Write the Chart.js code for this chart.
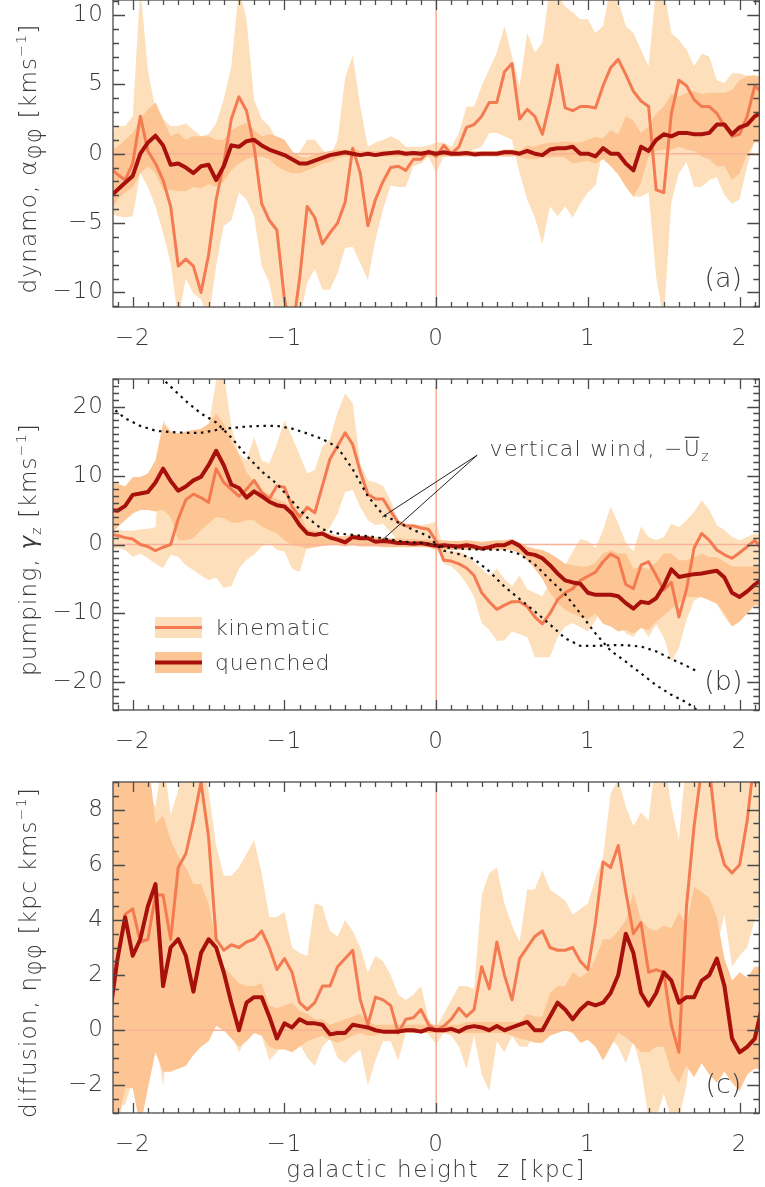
<!DOCTYPE html>
<html>
<head>
<meta charset="utf-8">
<script src="https://cdn.jsdelivr.net/npm/chart.js@4.4.1/dist/chart.umd.min.js"></script>
<style>
  body { margin: 0; background: #fff; width: 765px; height: 1187px; position: relative; overflow: hidden; }
  canvas { position: absolute; left: 0; }
</style>
</head>
<body>
<canvas id="pa" width="765" height="376" style="top:-24px"></canvas>
<canvas id="pb" width="765" height="406" style="top:352px"></canvas>
<canvas id="pc" width="765" height="429" style="top:758px"></canvas>
<script>
// --- data: galactic height grid (kpc) ---
const zGrid = [-2.15, -2.1, -2.05, -2, -1.95, -1.9, -1.85, -1.8, -1.75, -1.7,
  -1.65, -1.6, -1.55, -1.5, -1.45, -1.4, -1.35, -1.3, -1.25, -1.2,
  -1.15, -1.1, -1.05, -1, -0.95, -0.9, -0.85, -0.8, -0.75, -0.7,
  -0.65, -0.6, -0.55, -0.5, -0.45, -0.4, -0.35, -0.3, -0.25, -0.2,
  -0.15, -0.1, -0.05, 0, 0.05, 0.1, 0.15, 0.2, 0.25, 0.3,
  0.35, 0.4, 0.45, 0.5, 0.55, 0.6, 0.65, 0.7, 0.75, 0.8,
  0.85, 0.9, 0.95, 1, 1.05, 1.1, 1.15, 1.2, 1.25, 1.3,
  1.35, 1.4, 1.45, 1.5, 1.55, 1.6, 1.65, 1.7, 1.75, 1.8,
  1.85, 1.9, 1.95, 2, 2.05, 2.1, 2.15];
const zTicks = [-2, -1, 0, 1, 2];

// (a) dynamo alpha_phiphi
const aKin = [-1.0, -1.5, -1.9, -0.7, 2.7, 0.2, -0.7, -1.9, -3.8, -8.1,
  -7.6, -8.1, -10.0, -7.3, -3.3, -0.7, 2.5, 4.1, 3.1, 0.5,
  -3.6, -4.8, -5.5, -10.5, -13, -9.0, -3.8, -4.6, -6.5, -5.7,
  -5.0, -3.5, 0.4, -1.4, -5.2, -3.3, -2.0, -1.0, -0.9, -1.2,
  -0.4, -0.4, 0.2, -0.2, 0.6, 0.0, 0.5, 1.9, 2.1, 2.7,
  3.7, 3.7, 5.9, 6.5, 2.5, 3.2, 2.7, 1.4, 3.7, 6.4,
  3.3, 3.1, 3.4, 3.4, 3.3, 4.9, 6.2, 6.8, 5.7, 4.5,
  3.8, 3.4, -2.6, -2.8, 2.9, 5.3, 4.9, 3.9, 3.4, 3.4,
  2.9, 2.0, 1.25, 1.4, 2.7, 4.9, 4.4];
const aKinHi = [1.5, 2.0, 2.0, 2.7, 12, 6.0, 3.2, 2.5, 2.0, 2.0,
  2.2, 1.7, 1.25, 1.4, 2.2, 3.9, 6.3, 12, 9.7, 3.9,
  2.5, 2.0, 1.0, 0.5, -0.2, 0.1, 1.0, 1.0, 0.3, -0.3,
  1.0, 5.5, 7.1, 3.4, 0.5, 0.8, 1.0, 1.25, 1.0, 0.5,
  0.5, 0.5, 0.6, 0.8, 0.8, 0.5, 1.5, 3.4, 3.4, 4.9,
  6.1, 7.3, 9.2, 7.0, 4.9, 8.7, 7.3, 8.0, 12, 11.5,
  10.6, 10.2, 9.7, 9.7, 8.7, 9.2, 12, 11, 9.2, 8.7,
  7.5, 6.3, 12, 12, 8.7, 8.2, 7.5, 6.3, 7.2, 7.0,
  5.3, 5.1, 5.8, 5.8, 5.6, 5.7, 5.5];
const aKinLo = [-4.3, -4.5, -4.6, -4.5, -1.4, -2.4, -3.8, -5.7, -7.9, -12,
  -9.0, -10.1, -10.5, -12, -8.1, -5.2, -4.8, -2.8, -3.3, -4.5,
  -8.1, -9.3, -12, -12, -12, -12, -9.3, -8.3, -9.8, -9.8,
  -8.6, -6.8, -6.7, -7.9, -9.1, -6.2, -4.0, -2.3, -2.4, -2.4,
  -0.9, -0.7, -0.2, -1.4, -0.2, -0.2, -0.2, 0.0, 0.3, 0.5,
  1.5, 1.5, 1.25, 1.0, -1.4, -3.3, -4.6, -6.5, -3.8, -4.5,
  -3.8, -4.6, -3.6, -2.8, -2.3, 0.3, 0.3, 0.3, -0.9, -3.1,
  -3.1, -2.8, -8.9, -12, -3.5, -1.4, -0.6, -2.4, -2.4, -1.9,
  -1.7, -3.0, -3.6, -3.3, -0.9, 1.0, 0.8];
const aQ = [-3.1, -2.6, -2.1, -1.6, 0.0, 0.8, 1.3, 0.6, -0.8, -0.7,
  -1.0, -1.4, -0.9, -0.8, -1.9, -0.9, 0.6, 0.5, 0.9, 1.0,
  0.6, 0.3, 0.1, -0.1, -0.4, -0.7, -0.7, -0.5, -0.3, -0.1,
  0.0, 0.1, 0.0, -0.1, 0.0, -0.1, 0.0, 0.05, 0.1, 0.0,
  0.05, 0.0, 0.1, 0.0, 0.1, 0.0, 0.0, 0.05, -0.05, 0.0,
  0.0, 0.0, 0.1, 0.1, 0.0, 0.2, 0.0, -0.1, 0.3, 0.4,
  0.4, 0.5, 0.0, 0.0, -0.2, 0.4, 0.0, 0.0, -0.7, -1.2,
  0.5, 0.2, 1.0, 1.4, 1.25, 1.5, 1.5, 1.4, 1.4, 1.5,
  2.1, 2.1, 1.4, 1.9, 2.1, 2.7, 3.0];
const aQHi = [0.3, 0.5, 1.0, 1.5, 2.5, 3.2, 3.7, 2.5, 1.25, 1.5,
  1.0, 1.25, 1.25, 1.25, 1.0, 1.0, 1.7, 2.0, 2.2, 1.7,
  1.25, 1.4, 1.25, 1.0, 0.2, -0.2, -0.3, 0.0, 0.1, 0.2,
  0.3, 0.2, 0.4, 0.2, 0.2, 0.2, 0.2, 0.2, 0.25, 0.2,
  0.2, 0.2, 0.25, 0.2, 0.25, 0.2, 0.2, 0.2, 0.2, 0.2,
  0.2, 0.2, 0.3, 0.3, 0.2, 0.6, 0.5, 0.7, 0.8, 0.8,
  0.9, 0.8, 0.8, 1.0, 1.2, 1.1, 1.7, 1.4, 2.7, 2.4,
  1.5, 2.0, 2.9, 3.4, 4.3, 4.1, 4.4, 4.5, 4.3, 4.4,
  4.4, 4.4, 4.6, 5.3, 5.6, 5.6, 5.5];
const aQLo = [-4.3, -3.3, -2.8, -2.4, -1.4, -0.9, -1.4, -2.6, -2.6, -2.7,
  -2.7, -2.4, -2.5, -2.2, -2.4, -2.0, -1.2, -0.7, -0.4, -0.2,
  -0.2, -0.4, -0.9, -1.2, -1.4, -1.4, -1.2, -1.0, -0.7, -0.6,
  -0.3, -0.2, -0.2, -0.2, -0.2, -0.2, -0.2, -0.2, -0.2, -0.2,
  -0.2, -0.2, -0.2, -0.2, -0.2, -0.2, -0.2, -0.2, -0.2, -0.2,
  -0.2, -0.2, -0.2, -0.2, -0.2, -0.4, -0.4, -0.3, -0.3, -0.2,
  -0.3, -0.7, -0.6, -0.5, -0.7, -0.4, -0.9, -1.5, -2.4, -3.1,
  -2.1, -0.2, 0.2, 0.3, 0.3, 0.5, 0.3, 0.2, -0.2, -0.4,
  -0.9, -0.9, -1.9, -1.4, 0.0, 0.8, 0.8];

// (b) pumping gamma_z
const bKin = [1.5, 1.3, 1.0, 0.8, 0.0, -0.3, -0.9, -0.4, 0.0, 3.7,
  6.5, 7.3, 6.8, 6.1, 11.0, 9.0, 8.0, 7.0, 8.0, 9.3,
  7.6, 6.6, 8.5, 8.3, 5.5, 4.0, 5.4, 4.6, 8.5, 12.4,
  14.3, 16.2, 14.5, 10.5, 7.3, 6.6, 6.6, 4.8, 3.2, 2.7,
  2.7, 2.4, 2.2, 0.5, -2.3, -2.4, -2.8, -3.4, -4.5, -7.0,
  -8.3, -9.4, -8.8, -8.3, -8.3, -9.0, -10.5, -11.5, -10.0, -8.0,
  -7.0, -6.4, -5.2, -4.6, -4.0, -2.5, -1.4, -2.0, -5.8, -6.4,
  -3.0, -2.5, -4.5, -6.6, -5.5, -10.5, -6.5, -0.5, 1.6, 0.6,
  -0.8, -1.5, -2.0, -1.2, -0.3, 0.6, -0.8];
const bKinHi = [2.0, 2.2, 2.0, 2.0, 2.2, 2.3, 2.5, 18.0, 16.5, 16.1,
  16.3, 16.6, 16.6, 17.1, 23.8, 25, 17.1, 13.2, 12.2, 15.6,
  12.2, 11.7, 14.6, 18.0, 15.6, 13.0, 10.3, 10.8, 14.2, 15.3,
  19.2, 21.9, 20.5, 11.7, 9.3, 9.0, 8.5, 6.4, 3.5, 3.0,
  3.0, 2.8, 3.0, 3.3, -0.8, -1.0, -1.0, -1.5, -2.5, -3.5,
  -4.5, -3.5, -5.0, -6.0, -4.5, -6.5, -7.0, -7.5, -5.5, -4.5,
  -3.0, -1.0, 0.8, 0.5, -0.5, 2.1, 5.5, 3.0, 0.3, -1.0,
  2.6, 1.1, 0.6, 1.1, 3.0, 2.5, 3.5, 4.7, 6.4, 5.0,
  2.8, 2.1, 1.1, 0.6, 1.1, 1.6, 1.4];
const bKinLo = [-1.0, -0.5, -0.8, -1.8, -1.3, -2.0, -2.8, -3.4, -1.5, -1.8,
  -3.0, -3.7, -4.5, -5.2, -4.8, -6.3, -6.0, -3.5, -2.2, -1.5,
  -0.3, 0.2, -0.8, -1.0, -3.5, -4.0, -0.3, 0.2, 0.8, 2.5,
  4.5, 7.6, 7.9, 5.4, 3.5, 2.8, 3.0, 1.8, 0.4, 0.0,
  0.4, 0.0, 0.4, -0.3, -2.8, -3.2, -4.2, -5.7, -7.6, -11.4,
  -12.4, -14.0, -13.9, -12.6, -13.0, -13.4, -16.3, -16.4, -16.3, -13.5,
  -11.9, -11.4, -12.0, -12.6, -11.0, -9.0, -10.0, -11.0, -12.9, -13.4,
  -11.9, -13.4, -11.6, -13.5, -17.0, -15.0, -11.0, -8.1, -7.6, -8.1,
  -8.6, -10.5, -11.9, -11.0, -9.3, -8.1, -8.1];
const bQ = [5.0, 4.9, 5.6, 7.2, 7.4, 7.6, 9.0, 11.0, 9.2, 7.8,
  8.4, 9.3, 9.8, 11.5, 13.6, 11.5, 8.7, 8.2, 6.8, 7.7,
  7.0, 6.2, 5.7, 5.5, 4.5, 2.8, 1.6, 1.4, 1.6, 1.0,
  0.7, 0.3, 1.1, 0.9, 0.9, 0.4, 0.5, 0.4, 0.2, 0.2,
  0.1, 0.2, 0.0, -0.2, -0.1, -0.2, -0.3, -0.1, -0.3, -0.6,
  -0.4, -0.1, -0.1, 0.4, -0.2, -1.3, -1.5, -2.0, -3.0, -4.2,
  -5.2, -5.5, -5.7, -7.0, -7.3, -7.3, -7.3, -7.5, -8.5, -9.3,
  -8.3, -8.5, -7.8, -6.0, -3.6, -4.7, -4.5, -4.3, -4.2, -4.0,
  -3.8, -4.8, -7.0, -7.6, -6.8, -5.8, -5.0];
const bQHi = [9.0, 8.8, 8.4, 9.8, 9.8, 10.3, 12.2, 17.5, 16.3, 16.1,
  16.4, 16.6, 16.8, 17.5, 19.0, 17.5, 15.0, 13.0, 10.5, 9.0,
  7.8, 7.2, 6.6, 6.2, 5.3, 4.5, 2.3, 2.0, 1.8, 1.6,
  1.2, 1.2, 1.5, 1.3, 1.3, 1.1, 1.0, 0.9, 0.9, 0.8,
  0.8, 0.7, 0.7, 0.6, 0.6, 0.5, 0.5, 0.6, 0.5, 0.4,
  0.5, 0.6, 0.6, 0.8, 0.3, -0.3, -0.6, -0.8, -1.3, -2.0,
  -2.8, -3.0, -3.2, -3.2, -2.6, -1.3, -0.8, -1.3, -1.3, -3.5,
  -3.2, -3.6, -2.6, -1.3, -1.3, -2.3, -2.3, -1.8, -1.3, -1.8,
  -1.8, -2.5, -3.2, -3.2, -3.2, -3.2, -3.0];
const bQLo = [1.5, 2.5, 3.5, 4.5, 5.0, 5.0, 4.8, 5.0, 4.0, 0.6,
  0.6, 0.9, 2.1, 3.0, 4.0, 3.8, 3.2, 3.2, 3.5, 3.5,
  2.6, 2.1, 1.6, 0.6, -0.1, -0.3, -0.6, -0.4, -0.2, -0.1,
  -0.1, -0.3, -0.1, -0.3, -0.3, -0.3, -0.4, -0.4, -0.4, -0.4,
  -0.4, -0.4, -0.4, -0.8, -0.8, -0.8, -0.8, -0.8, -0.8, -0.8,
  -0.8, -0.8, -0.8, -0.8, -1.3, -2.3, -3.5, -5.0, -7.0, -8.5,
  -9.5, -10.0, -10.5, -10.8, -10.0, -11.5, -11.9, -12.6, -12.4, -12.9,
  -12.1, -12.4, -11.2, -10.3, -9.3, -8.6, -7.6, -7.6, -7.6, -8.1,
  -8.6, -10.0, -11.9, -11.2, -10.0, -8.8, -9.0];
// vertical wind -U_z (two dotted curves)
const windAz = [-2.15, -2.05, -1.95, -1.85, -1.75, -1.65, -1.55, -1.45, -1.35, -1.25,
  -1.15, -1.05, -0.95, -0.85, -0.75, -0.65, -0.55, -0.45, -0.35, -0.25,
  -0.15, -0.05, 0, 0.05, 0.15, 0.25, 0.35, 0.45, 0.55, 0.65,
  0.75, 0.85, 0.95, 1.05, 1.15, 1.25, 1.35, 1.45, 1.55, 1.65, 1.72];
const windA = [20.1, 18.3, 17.2, 16.5, 16.3, 16.2, 16.2, 16.6, 16.9, 17.1,
  17.2, 17.2, 16.8, 16.1, 15.3, 14.1, 10.9, 7.0, 4.3, 3.2,
  2.1, 1.2, 0, -0.9, -1.4, -2.1, -3.9, -6.1, -7.9, -9.7,
  -11.6, -13.6, -14.7, -14.7, -14.6, -14.6, -14.8, -15.5, -16.6, -17.6, -18.4];
const windBz = [-1.85, -1.75, -1.65, -1.55, -1.45, -1.35, -1.25, -1.15, -1.05, -0.95,
  -0.85, -0.75, -0.65, -0.55, -0.45, -0.35, -0.25, -0.15, -0.05, 0,
  0.05, 0.15, 0.25, 0.35, 0.45, 0.55, 0.65, 0.75, 0.85, 0.95,
  1.05, 1.15, 1.25, 1.35, 1.45, 1.55, 1.65, 1.75];
const windB = [25, 22.9, 20.8, 19.0, 17.7, 15.5, 12.9, 10.6, 8.8, 6.3,
  3.9, 2.2, 1.6, 1.4, 1.2, 0.9, 0.5, 0.3, 0.1, 0,
  -0.4, -0.6, -0.7, -0.75, -0.8, -1.4, -2.9, -5.1, -7.2, -10.0,
  -12.9, -15.4, -17.0, -18.7, -20.4, -21.8, -22.9, -24.5];

// (c) diffusion eta_phiphi
const cKin = [1.4, 2.6, 4.2, 4.4, 3.2, 3.3, 4.9, 4.9, 3.3, 5.9,
  6.4, 7.6, 9.0, 7.0, 3.3, 2.9, 3.1, 3.0, 3.2, 3.3,
  3.6, 3.0, 2.2, 2.6, 2.1, 1.0, 0.75, 1.0, 1.6, 1.6,
  2.3, 2.6, 2.9, 1.1, 0.2, 1.2, 1.1, 0.9, -0.1, 0.4,
  0.45, 0.75, 0.2, 0.0, 0.15, 0.4, 0.8, 0.5, 0.75, 2.3,
  1.5, 3.2, 2.0, 1.1, 2.6, 3.0, 3.4, 3.6, 3.0, 2.9,
  2.9, 3.0, 2.5, 2.2, 3.9, 6.1, 5.9, 6.7, 5.0, 3.5,
  3.9, 2.1, 2.2, 2.1, 0.2, -0.8, 4.5, 7.4, 9.5, 9.5,
  7.0, 6.0, 5.7, 6.0, 7.6, 10, 10];
const cKinHi = [10, 10, 8.4, 8.1, 7.6, 8.6, 8.1, 10, 7.8, 8.7,
  10, 10, 10, 8.7, 6.7, 5.6, 5.6, 5.9, 6.4, 6.9,
  5.7, 4.1, 4.1, 4.3, 3.0, 2.8, 2.7, 4.6, 4.5, 3.6,
  3.4, 4.0, 3.6, 3.0, 2.1, 2.7, 2.5, 2.0, 1.3, 1.1,
  1.3, 1.6, 0.4, 0.1, 0.6, 1.1, 1.6, 1.6, 1.5, 4.9,
  5.7, 5.9, 4.6, 3.8, 3.2, 5.1, 5.1, 5.8, 5.1, 4.9,
  4.7, 4.2, 4.4, 4.6, 5.5, 6.3, 8.6, 9.1, 8.1, 7.4,
  7.9, 7.6, 10, 10, 8.1, 6.9, 10, 10, 10, 10,
  10, 10, 10, 10, 10, 10, 10];
const cKinLo = [-2.5, -2.75, -2.7, -1.8, -3.2, -2.0, -0.3, -2.0, 0.15, -0.3,
  -0.3, 0.0, -0.3, 0.0, 0.75, 2.0, -0.1, -0.8, -0.3, -0.1,
  -0.2, -1.1, -0.8, -0.4, -0.1, -0.5, -1.0, -1.3, -0.6, -0.3,
  -1.0, -1.2, -0.9, -0.7, -2.0, -1.1, -0.4, -0.4, -1.1, -0.1,
  0.0, 0.0, -0.15, -0.5, -0.1, -0.2, -0.6, -1.4, -0.2, -1.6,
  -2.2, -0.4, -0.8, -0.2, -0.6, -0.6, -0.1, 0.0, 0.25, 0.1,
  0.1, 0.0, -0.3, 0.3, 0.25, 0.0, -0.3, -0.6, -1.2, -0.4,
  -1.4, -3.2, -3.2, -2.3, -3.2, -3.2, -2.0, 0.3, 2.1, 2.5,
  3.0, 4.2, 2.3, 2.7, 3.0, 4.0, 4.2];
const cQ = [0.6, 2.6, 4.1, 2.7, 3.3, 4.5, 5.3, 1.6, 3.0, 3.3,
  2.7, 1.4, 2.8, 3.3, 3.0, 2.1, 1.0, 0.0, 1.0, 1.2,
  1.2, 0.5, -0.3, 0.25, 0.1, 0.4, 0.25, 0.25, 0.2, -0.15,
  -0.1, -0.1, 0.2, 0.15, 0.1, 0.0, -0.05, -0.05, -0.05, 0.0,
  0.0, -0.05, 0.05, 0.0, 0.0, 0.05, -0.05, 0.1, 0.15, 0.1,
  0.0, 0.15, 0.0, 0.1, 0.2, 0.3, 0.0, 0.0, 0.5, 1.0,
  0.75, 0.4, 0.75, 1.0, 0.9, 1.0, 1.35, 2.0, 3.5, 2.8,
  1.35, 0.9, 1.35, 2.1, 1.8, 1.0, 1.2, 1.2, 1.8, 2.0,
  2.6, 1.6, -0.3, -0.8, -0.6, -0.3, 0.9];
const cQHi = [10, 10, 10, 10, 10, 10, 7.5, 7.8, 6.9, 6.3,
  5.9, 5.3, 5.3, 4.6, 3.2, 2.3, 2.0, 1.7, 1.6, 1.6,
  1.7, 0.9, 0.8, 0.9, 1.0, 0.7, 0.6, 0.4, 0.4, 0.2,
  0.3, 0.4, 0.5, 0.6, 0.3, 0.2, 0.2, 0.2, 0.2, 0.2,
  0.2, 0.2, 0.2, 0.2, 0.2, 0.2, 0.2, 0.3, 0.3, 0.3,
  0.3, 0.3, 0.3, 0.3, 0.3, 0.6, 0.5, 0.5, 1.35, 1.6,
  1.6, 2.1, 1.9, 2.1, 2.6, 3.3, 3.3, 3.6, 4.0, 5.0,
  4.0, 3.7, 3.6, 3.8, 3.7, 4.3, 3.8, 5.2, 5.0, 4.8,
  4.1, 2.6, 1.8, 2.1, 1.9, 2.3, 2.3];
const cQLo = [-3.5, -3.5, -2.1, -2.1, -3.5, -2.1, -0.8, -1.5, -1.5, -1.4,
  -1.3, -0.9, -0.6, -0.4, 0.15, 0.0, -0.3, -0.6, -0.4, -0.1,
  -0.2, -0.6, -0.7, -0.7, -0.8, -0.6, -0.4, -0.3, -0.2, -0.35,
  -0.45, -0.35, -0.2, -0.1, -0.2, -0.2, -0.1, -0.1, -0.1, -0.1,
  -0.1, -0.1, -0.1, -0.1, -0.1, -0.1, -0.1, -0.1, -0.1, -0.1,
  -0.1, -0.1, -0.1, -0.2, -0.3, -0.35, -0.45, -0.45, -0.2, -0.1,
  0.0, -0.1, -0.45, -0.35, -0.6, -1.1, -0.6, -0.1, -0.25, -0.5,
  -0.8, -0.8, -0.6, -0.6, -1.5, -1.9, -1.3, -1.7, -1.2, -1.6,
  -1.9, -1.5, -1.9, -2.2, -1.6, -1.4, -1.4];

// --- styles ---
const FONT = '"DejaVu Sans", "Liberation Sans", sans-serif';
const TXT = '#3a3a3a';
const AXIS = '#4a4a4a';
const colKinBand = '#fde0bb';
const colQBand = '#fcc593';
const colKinLine = '#f47a52';
const colQLine = '#a8100c';
const colZero = '#f9b197';

const pts = (zs, vs) => zs.map((z, i) => ({ x: z, y: vs[i] }));
const fmt = v => (v < 0 ? '\u2212' + Math.abs(v) : String(v));

// draw a string made of pieces (sub/superscripts), optionally rotated
function drawRich(ctx, segs, x, y, rotate, spacing) {
  ctx.save();
  ctx.letterSpacing = (spacing || 0) + 'px';
  ctx.translate(x, y);
  if (rotate) ctx.rotate(-Math.PI / 2);
  let total = 0;
  segs.forEach(s => {
    ctx.font = `${s.style || ''} 300 ${s.size}px ${FONT}`;
    s.w = ctx.measureText(s.t).width;
    total += s.w;
  });
  let cx = -total / 2;
  ctx.fillStyle = TXT;
  ctx.textBaseline = 'alphabetic';
  ctx.textAlign = 'left';
  segs.forEach(s => {
    ctx.font = `${s.style || ''} 300 ${s.size}px ${FONT}`;
    ctx.fillText(s.t, cx, s.dy || 0);
    if (s.bar) {
      ctx.strokeStyle = TXT; ctx.lineWidth = 1.2;
      ctx.beginPath(); ctx.moveTo(cx + 1, -s.size * 0.86); ctx.lineTo(cx + s.w - 2, -s.size * 0.86); ctx.stroke();
    }
    cx += s.w;
  });
  ctx.restore();
  return total;
}

// frame, inward ticks, titles, panel tag
const framePlugin = {
  id: 'frame',
  beforeDraw(chart) { chart.ctx.letterSpacing = '1px'; },
  afterDatasetsDraw(chart, args, o) {
    const { ctx, chartArea: a, scales: { x, y } } = chart;
    ctx.save();
    ctx.strokeStyle = AXIS;
    ctx.lineWidth = 1.3;
    ctx.strokeRect(a.left, a.top, a.right - a.left, a.bottom - a.top);
    ctx.beginPath();
    for (let k = -22; k <= 22; k++) {
      const v = k / 10;
      if (v < x.min || v > x.max) continue;
      const px = Math.round(x.getPixelForValue(v)) + 0.5;
      const len = k % 10 === 0 ? 10 : 5;
      ctx.moveTo(px, a.bottom); ctx.lineTo(px, a.bottom - len);
      ctx.moveTo(px, a.top); ctx.lineTo(px, a.top + len);
    }
    const n0 = Math.ceil(y.min / o.yMinor), n1 = Math.floor(y.max / o.yMinor);
    for (let n = n0; n <= n1; n++) {
      const v = n * o.yMinor;
      const py = Math.round(y.getPixelForValue(v)) + 0.5;
      const major = Math.abs(v / o.yMajor - Math.round(v / o.yMajor)) < 1e-6;
      const len = major ? 12 : 6;
      ctx.moveTo(a.left, py); ctx.lineTo(a.left + len, py);
      ctx.moveTo(a.right, py); ctx.lineTo(a.right - len, py);
    }
    ctx.stroke();
    ctx.restore();
  },
  afterDraw(chart, args, o) {
    const { ctx, chartArea: a } = chart;
    drawRich(ctx, o.title, 36, (a.top + a.bottom) / 2 + 5, true, 1.2);
    ctx.save();
    ctx.letterSpacing = '0px';
    ctx.font = `300 27px ${FONT}`;
    ctx.fillStyle = TXT;
    ctx.textAlign = 'center';
    ctx.textBaseline = 'middle';
    ctx.fillText(o.tag, a.right - 36, a.bottom - 27);
    ctx.restore();
    if (o.xTitle) {
      drawRich(ctx, [{ t: 'galactic height  z [kpc]', size: 23 }], (a.left + a.right) / 2, a.bottom + 64, false, 1.6);
    }
  }
};

// legend and wind annotation for panel (b)
const notesPlugin = {
  id: 'notes',
  afterDraw(chart) {
    const { ctx, chartArea: a, scales: { x, y } } = chart;
    ctx.save();
    ctx.letterSpacing = '0.8px';
    const lx = a.left + 42, w = 47, h = 21;
    [[238, colKinBand, colKinLine, 3, 'kinematic'], [273, colQBand, colQLine, 4, 'quenched']].forEach(([dy, band, line, lw, label]) => {
      ctx.fillStyle = band;
      ctx.fillRect(lx, a.top + dy, w, h);
      ctx.strokeStyle = line; ctx.lineWidth = lw;
      ctx.beginPath(); ctx.moveTo(lx, a.top + dy + h / 2); ctx.lineTo(lx + w, a.top + dy + h / 2); ctx.stroke();
      ctx.fillStyle = TXT;
      ctx.font = `300 22px ${FONT}`;
      ctx.textAlign = 'left'; ctx.textBaseline = 'alphabetic';
      ctx.fillText(label, lx + 60, a.top + dy + 18);
    });
    // pointer lines to the two wind curves
    const ax = x.getPixelForValue(0.27), ay = y.getPixelForValue(12.95);
    ctx.strokeStyle = '#222'; ctx.lineWidth = 1;
    ctx.beginPath();
    ctx.moveTo(ax, ay); ctx.lineTo(x.getPixelForValue(-0.355), y.getPixelForValue(4.0));
    ctx.moveTo(ax, ay); ctx.lineTo(x.getPixelForValue(-0.355), y.getPixelForValue(0.65));
    ctx.stroke();
    ctx.restore();
    const tx = x.getPixelForValue(0.352), ty = y.getPixelForValue(12.8);
    const segs = [{ t: 'vertical wind, \u2212', size: 22 }, { t: 'U', size: 22, bar: true }, { t: 'z', size: 14, dy: 5 }];
    ctx.save();
    ctx.letterSpacing = '1.3px';
    let tw = 0;
    segs.forEach(s => { ctx.font = `300 ${s.size}px ${FONT}`; tw += ctx.measureText(s.t).width; });
    ctx.restore();
    drawRich(ctx, segs, tx + tw / 2, ty, false, 1.3);
  }
};

function makePanel(p) {
  const datasets = [
    { data: pts(zGrid, p.kinHi), fill: '+1', backgroundColor: colKinBand, borderWidth: 0, pointRadius: 0, order: 6 },
    { data: pts(zGrid, p.kinLo), fill: false, borderWidth: 0, pointRadius: 0, order: 6 },
    { data: pts(zGrid, p.qHi), fill: '+1', backgroundColor: colQBand, borderWidth: 0, pointRadius: 0, order: 5 },
    { data: pts(zGrid, p.qLo), fill: false, borderWidth: 0, pointRadius: 0, order: 5 },
    { data: [{ x: -2.2, y: 0 }, { x: 2.2, y: 0 }], borderColor: colZero, borderWidth: 1.6, pointRadius: 0, fill: false, order: 4 },
    { data: [{ x: 0, y: p.yMin - 5 }, { x: 0, y: p.yMax + 5 }], borderColor: colZero, borderWidth: 1.6, pointRadius: 0, fill: false, order: 4 },
    { data: pts(zGrid, p.kin), borderColor: colKinLine, borderWidth: 3, pointRadius: 0, fill: false, order: 3 },
    { data: pts(zGrid, p.q), borderColor: colQLine, borderWidth: 4, pointRadius: 0, fill: false, order: 2 },
  ];
  (p.extra || []).forEach(d => datasets.push(d));
  const tickFont = { family: FONT, size: 23, weight: '300' };
  return new Chart(document.getElementById(p.id), {
    type: 'line',
    data: { datasets },
    options: {
      responsive: false,
      animation: false,
      events: [],
      elements: { line: { tension: 0, borderJoinStyle: 'round' } },
      layout: { padding: { top: p.padTop, right: 2, left: 0, bottom: 0 } },
      plugins: {
        legend: { display: false },
        tooltip: { enabled: false },
        frame: { yMinor: p.yMinor, yMajor: p.yStep, title: p.title, tag: p.tag, xTitle: p.xTitle }
      },
      scales: {
        x: {
          type: 'linear', min: -2.13, max: 2.13,
          grid: { display: false, drawTicks: false }, border: { display: false },
          ticks: { font: tickFont, color: TXT, padding: 18, maxRotation: 0, callback: fmt },
          afterBuildTicks: s => { s.ticks = zTicks.map(v => ({ value: v })); },
          afterFit: s => { s.height = p.xH; }
        },
        y: {
          type: 'linear', min: p.yMin, max: p.yMax,
          grid: { display: false, drawTicks: false }, border: { display: false },
          ticks: { font: tickFont, color: TXT, padding: 9, callback: fmt },
          afterBuildTicks: s => { s.ticks = p.yTicks.map(v => ({ value: v })); },
          afterFit: s => { s.width = 113; }
        }
      }
    },
    plugins: [framePlugin].concat(p.plugins || [])
  });
}

const sub = { size: 14, dy: 5, style: 'italic bold' };
makePanel({
  id: 'pa', padTop: 24, xH: 45, yMin: -11.05, yMax: 11.08, yTicks: [-10, -5, 0, 5, 10], yStep: 5, yMinor: 1,
  kin: aKin, kinHi: aKinHi, kinLo: aKinLo, q: aQ, qHi: aQHi, qLo: aQLo, tag: '(a)',
  title: [{ t: 'dynamo, ', size: 23 }, { t: '\u03b1', size: 23, style: 'italic bold' }, Object.assign({ t: '\u03c6\u03c6' }, sub),
    { t: ' [kms', size: 23 }, { t: '\u22121', size: 14, dy: -10 }, { t: ']', size: 23 }]
});
makePanel({
  id: 'pb', padTop: 27, xH: 48, yMin: -24, yMax: 24, yTicks: [-20, -10, 0, 10, 20], yStep: 10, yMinor: 1,
  kin: bKin, kinHi: bKinHi, kinLo: bKinLo, q: bQ, qHi: bQHi, qLo: bQLo, tag: '(b)',
  title: [{ t: 'pumping, ', size: 23 }, { t: '\u03b3', size: 23, style: 'italic' }, { t: 'z', size: 14, dy: 5 },
    { t: ' [kms', size: 23 }, { t: '\u22121', size: 14, dy: -10 }, { t: ']', size: 23 }],
  extra: [
    { data: pts(windAz, windA), borderColor: '#111', borderWidth: 2.2, borderDash: [2.5, 4.5], pointRadius: 0, fill: false, order: 1 },
    { data: pts(windBz, windB), borderColor: '#111', borderWidth: 2.2, borderDash: [2.5, 4.5], pointRadius: 0, fill: false, order: 1 }
  ],
  plugins: [notesPlugin]
});
makePanel({
  id: 'pc', padTop: 24, xH: 74, yMin: -3, yMax: 9, yTicks: [-2, 0, 2, 4, 6, 8], yStep: 2, yMinor: 0.5,
  kin: cKin, kinHi: cKinHi, kinLo: cKinLo, q: cQ, qHi: cQHi, qLo: cQLo, tag: '(c)', xTitle: true,
  title: [{ t: 'diffusion, ', size: 23 }, { t: '\u03b7', size: 23, style: 'italic bold' }, Object.assign({ t: '\u03c6\u03c6' }, sub),
    { t: ' [kpc kms', size: 23 }, { t: '\u22121', size: 14, dy: -10 }, { t: ']', size: 23 }]
});
</script>
</body>
</html>
